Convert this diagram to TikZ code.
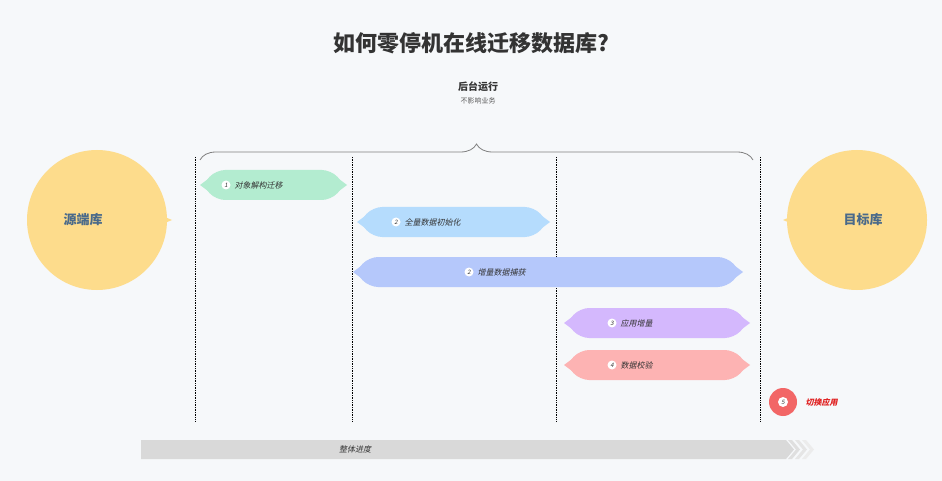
\documentclass[tikz,border=0pt]{standalone}
\usepackage{fontspec}
\setmainfont{Noto Sans CJK SC}
\newfontfamily\cjkit[FakeSlant=0.2]{Noto Sans CJK SC}
\usetikzlibrary{decorations.pathreplacing}
\definecolor{bg}{HTML}{F6F8FA}
\definecolor{cgreen}{HTML}{B3ECD0}
\definecolor{cblue}{HTML}{B5DCFD}
\definecolor{cblue2}{HTML}{B5C8FB}
\definecolor{cpurp}{HTML}{D4B8FD}
\definecolor{cpink}{HTML}{FDB3B3}
\definecolor{cyel}{HTML}{FDDC8C}
\definecolor{cred}{HTML}{F26666}
\definecolor{tred}{HTML}{E02020}
\definecolor{tdark}{HTML}{333333}
\definecolor{tblue}{HTML}{4A6A8A}
\newcommand\pbar[5]{%
 \fill[#4,rounded corners=9pt] (#1,#3) -- (#1+14,#3-15) -- (#2-14,#3-15) -- (#2,#3) -- (#2-14,#3+15) -- (#1+14,#3+15) -- cycle;
 \fill[#4] (#1-2,#3) -- (#1+6,#3-6) -- (#1+6,#3+6) -- cycle;
 \fill[#4] (#2+2,#3) -- (#2-6,#3-6) -- (#2-6,#3+6) -- cycle;}
\tikzset{num/.style={circle,fill=white,inner sep=0pt,minimum size=9pt,font=\cjkit\fontsize{6}{6}\selectfont,text=tdark},
 lab/.style={font=\cjkit\fontsize{8}{9}\selectfont,text=tdark,anchor=west},
 vline/.style={densely dotted,black,line width=0.7pt}}
\begin{document}
\begin{tikzpicture}[x=1pt,y=-1pt]
\fill[bg] (0,0) rectangle (942,481);
\useasboundingbox (0,0) rectangle (942,481);
\node[font=\bfseries\fontsize{22}{26}\selectfont,text=tdark] (title) at (471,43) {如何零停机在线迁移数据库?};
\node[font=\bfseries\fontsize{10}{12}\selectfont,text=tdark] (bg1) at (478,87) {后台运行};
\node[font=\fontsize{7}{8}\selectfont,text=tdark!80] (bg2) at (478,101) {不影响业务};
\draw[gray,line width=0.8pt,decorate,decoration={brace,amplitude=16pt}] (200,160) -- (753,160);
\foreach \x/\n in {195/a,352/b,556/c,760/d}{\draw[vline] (\x,157) coordinate (\n1) -- (\x,421) coordinate (\n2);}
\fill[cyel] (97,220) circle (70);
\fill[cyel] (172,220) .. controls (160,215) .. (150,198) -- (150,242) .. controls (160,225) .. (172,220);
\node[font=\bfseries\fontsize{13}{15}\selectfont,text=tblue] (src) at (83,220) {源端库};
\fill[cyel] (857,220) circle (70);
\fill[cyel] (783,220) .. controls (795,215) .. (805,198) -- (805,242) .. controls (795,225) .. (783,220);
\node[font=\bfseries\fontsize{13}{15}\selectfont,text=tblue] (dst) at (863,220) {目标库};
\pbar{202}{345}{185}{cgreen}{}
\node[num] (n1) at (226,185) {1}; \node[lab] (t1) at (231,185) {对象解构迁移};
\pbar{359}{548}{222}{cblue}{}
\node[num] (n2) at (396,222) {2}; \node[lab] (t2) at (401,222) {全量数据初始化};
\pbar{355}{741}{272}{cblue2}{}
\node[num] (n3) at (469,272) {2}; \node[lab] (t3) at (474,272) {增量数据捕获};
\pbar{566}{748}{323}{cpurp}{}
\node[num] (n4) at (612,323) {3}; \node[lab] (t4) at (617,323) {应用增量};
\pbar{566}{748}{365}{cpink}{}
\node[num] (n5) at (612,365) {4}; \node[lab] (t5) at (617,365) {数据校验};
\fill[cred] (783,402) circle (14);
\fill[cred] (770,402) -- (776,394) -- (776,410) -- cycle;
\fill[cred] (796,402) -- (790,394) -- (790,410) -- cycle;
\node[num,minimum size=10pt] (n6) at (783,402) {5};
\node[font=\cjkit\bfseries\fontsize{8}{9}\selectfont,text=tred,anchor=west] (t6) at (802,402) {切换应用};
\fill[gray!30] (141,440) -- (786,440) -- (794,449.5) -- (786,459) -- (141,459) -- cycle;
\foreach \dx/\c in {0/gray!25,7/gray!20,14/gray!15}{
 \fill[\c] (788+\dx,440) -- (792+\dx,440) -- (800+\dx,449.5) -- (792+\dx,459) -- (788+\dx,459) -- (796+\dx,449.5) -- cycle;}
\node[font=\cjkit\fontsize{8}{9}\selectfont,text=tdark] (prog) at (355,449) {整体进度};
\end{tikzpicture}
\end{document}
